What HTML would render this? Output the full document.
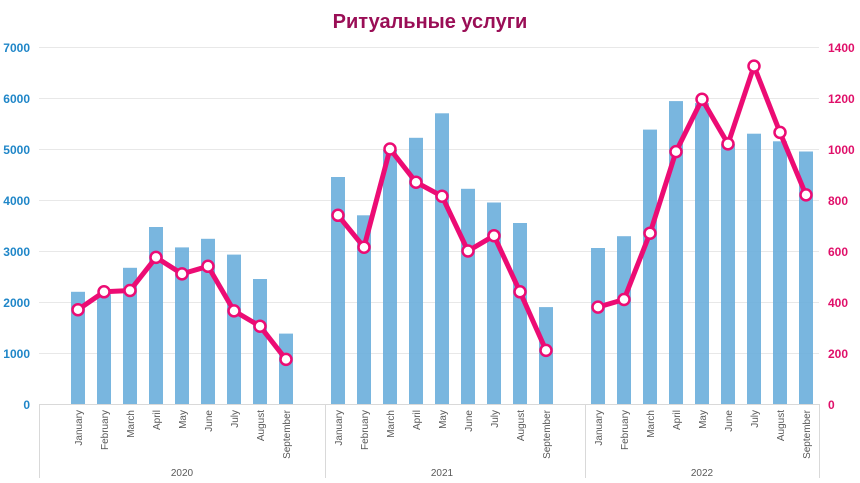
<!DOCTYPE html>
<html><head><meta charset="utf-8"><style>
html,body{margin:0;padding:0;background:#fff;}
svg{display:block;font-family:"Liberation Sans",Arial,sans-serif;}
</style></head><body>
<svg width="860" height="483" viewBox="0 0 860 483">
<text x="430" y="28" text-anchor="middle" font-size="20" font-weight="bold" fill="#9a0e56">Ритуальные услуги</text>
<g stroke="#e8e8e8" stroke-width="1">
<line x1="39" x2="819" y1="47.5" y2="47.5"/><line x1="39" x2="819" y1="98.5" y2="98.5"/>
<line x1="39" x2="819" y1="149.5" y2="149.5"/><line x1="39" x2="819" y1="200.5" y2="200.5"/>
<line x1="39" x2="819" y1="251.5" y2="251.5"/><line x1="39" x2="819" y1="302.5" y2="302.5"/>
<line x1="39" x2="819" y1="353.5" y2="353.5"/>
</g>
<g fill="#1f86c8" font-size="12" font-weight="bold" text-anchor="end">
<text x="30" y="52">7000</text><text x="30" y="103">6000</text><text x="30" y="154">5000</text>
<text x="30" y="205">4000</text><text x="30" y="256">3000</text><text x="30" y="307">2000</text>
<text x="30" y="358">1000</text><text x="30" y="409">0</text>
</g>
<g fill="#e0106a" font-size="12" font-weight="bold">
<text x="828" y="52">1400</text><text x="828" y="103">1200</text><text x="828" y="154">1000</text>
<text x="828" y="205">800</text><text x="828" y="256">600</text><text x="828" y="307">400</text>
<text x="828" y="358">200</text><text x="828" y="409">0</text>
</g>
<g fill="#6aaedb" fill-opacity="0.9">
<rect x="71" y="291.8" width="14" height="112.2"/><rect x="97" y="294.3" width="14" height="109.7"/>
<rect x="123" y="267.8" width="14" height="136.2"/><rect x="149" y="227" width="14" height="177"/>
<rect x="175" y="247.4" width="14" height="156.6"/><rect x="201" y="238.8" width="14" height="165.2"/>
<rect x="227" y="254.6" width="14" height="149.4"/><rect x="253" y="279" width="14" height="125"/>
<rect x="279" y="333.6" width="14" height="70.4"/>
<rect x="331" y="177" width="14" height="227"/><rect x="357" y="215.3" width="14" height="188.7"/>
<rect x="383" y="150" width="14" height="254"/><rect x="409" y="137.8" width="14" height="266.2"/>
<rect x="435" y="113.3" width="14" height="290.7"/><rect x="461" y="188.8" width="14" height="215.2"/>
<rect x="487" y="202.5" width="14" height="201.5"/><rect x="513" y="223" width="14" height="181"/>
<rect x="539" y="307.1" width="14" height="96.9"/>
<rect x="591" y="248" width="14" height="156"/><rect x="617" y="236.2" width="14" height="167.8"/>
<rect x="643" y="129.6" width="14" height="274.4"/><rect x="669" y="101.1" width="14" height="302.9"/>
<rect x="695" y="103.1" width="14" height="300.9"/><rect x="721" y="143.9" width="14" height="260.1"/>
<rect x="747" y="133.7" width="14" height="270.3"/><rect x="773" y="141.3" width="14" height="262.7"/>
<rect x="799" y="151.5" width="14" height="252.5"/>
</g>
<g stroke="#d9d9d9" stroke-width="1" fill="none">
<line x1="39" x2="819" y1="404.5" y2="404.5"/>
<line x1="39.5" x2="39.5" y1="404" y2="478"/><line x1="325.5" x2="325.5" y1="404" y2="478"/>
<line x1="585.5" x2="585.5" y1="404" y2="478"/><line x1="819.5" x2="819.5" y1="404" y2="478"/>
</g>
<g stroke="#ec0c74" stroke-width="5" fill="none" stroke-linejoin="round" stroke-linecap="round">
<polyline points="78,309.7 104,291.8 130,290.5 156,257.4 182,273.9 208,266.3 234,310.9 260,326.2 286,359.4"/>
<polyline points="338,215.3 364,247.2 390,149 416,182.2 442,196.2 468,251 494,235.7 520,291.8 546,350.4"/>
<polyline points="598,307.1 624,299.5 650,233.2 676,151.6 702,99.3 728,143.9 754,66.1 780,132.4 806,194.9"/>
</g>
<g fill="#fff" stroke="#ec0c74" stroke-width="2.5">
<circle cx="78" cy="309.7" r="5.5"/><circle cx="104" cy="291.8" r="5.5"/><circle cx="130" cy="290.5" r="5.5"/>
<circle cx="156" cy="257.4" r="5.5"/><circle cx="182" cy="273.9" r="5.5"/><circle cx="208" cy="266.3" r="5.5"/>
<circle cx="234" cy="310.9" r="5.5"/><circle cx="260" cy="326.2" r="5.5"/><circle cx="286" cy="359.4" r="5.5"/>
<circle cx="338" cy="215.3" r="5.5"/><circle cx="364" cy="247.2" r="5.5"/><circle cx="390" cy="149" r="5.5"/>
<circle cx="416" cy="182.2" r="5.5"/><circle cx="442" cy="196.2" r="5.5"/><circle cx="468" cy="251" r="5.5"/>
<circle cx="494" cy="235.7" r="5.5"/><circle cx="520" cy="291.8" r="5.5"/><circle cx="546" cy="350.4" r="5.5"/>
<circle cx="598" cy="307.1" r="5.5"/><circle cx="624" cy="299.5" r="5.5"/><circle cx="650" cy="233.2" r="5.5"/>
<circle cx="676" cy="151.6" r="5.5"/><circle cx="702" cy="99.3" r="5.5"/><circle cx="728" cy="143.9" r="5.5"/>
<circle cx="754" cy="66.1" r="5.5"/><circle cx="780" cy="132.4" r="5.5"/><circle cx="806" cy="194.9" r="5.5"/>
</g>
<g fill="#595959" font-size="10" text-anchor="end">
<g id="m1">
<text transform="translate(82,410) rotate(-90)">January</text>
<text transform="translate(108,410) rotate(-90)">February</text>
<text transform="translate(134,410) rotate(-90)">March</text>
<text transform="translate(160,410) rotate(-90)">April</text>
<text transform="translate(186,410) rotate(-90)">May</text>
<text transform="translate(212,410) rotate(-90)">June</text>
<text transform="translate(238,410) rotate(-90)">July</text>
<text transform="translate(264,410) rotate(-90)">August</text>
<text transform="translate(290,410) rotate(-90)">September</text>
</g>
<g transform="translate(260,0)">
<text transform="translate(82,410) rotate(-90)">January</text>
<text transform="translate(108,410) rotate(-90)">February</text>
<text transform="translate(134,410) rotate(-90)">March</text>
<text transform="translate(160,410) rotate(-90)">April</text>
<text transform="translate(186,410) rotate(-90)">May</text>
<text transform="translate(212,410) rotate(-90)">June</text>
<text transform="translate(238,410) rotate(-90)">July</text>
<text transform="translate(264,410) rotate(-90)">August</text>
<text transform="translate(290,410) rotate(-90)">September</text>
</g>
<g transform="translate(520,0)">
<text transform="translate(82,410) rotate(-90)">January</text>
<text transform="translate(108,410) rotate(-90)">February</text>
<text transform="translate(134,410) rotate(-90)">March</text>
<text transform="translate(160,410) rotate(-90)">April</text>
<text transform="translate(186,410) rotate(-90)">May</text>
<text transform="translate(212,410) rotate(-90)">June</text>
<text transform="translate(238,410) rotate(-90)">July</text>
<text transform="translate(264,410) rotate(-90)">August</text>
<text transform="translate(290,410) rotate(-90)">September</text>
</g>
</g>
<g fill="#595959" font-size="10" text-anchor="middle">
<text x="182" y="476">2020</text><text x="442" y="476">2021</text><text x="702" y="476">2022</text>
</g>
</svg>
</body></html>
